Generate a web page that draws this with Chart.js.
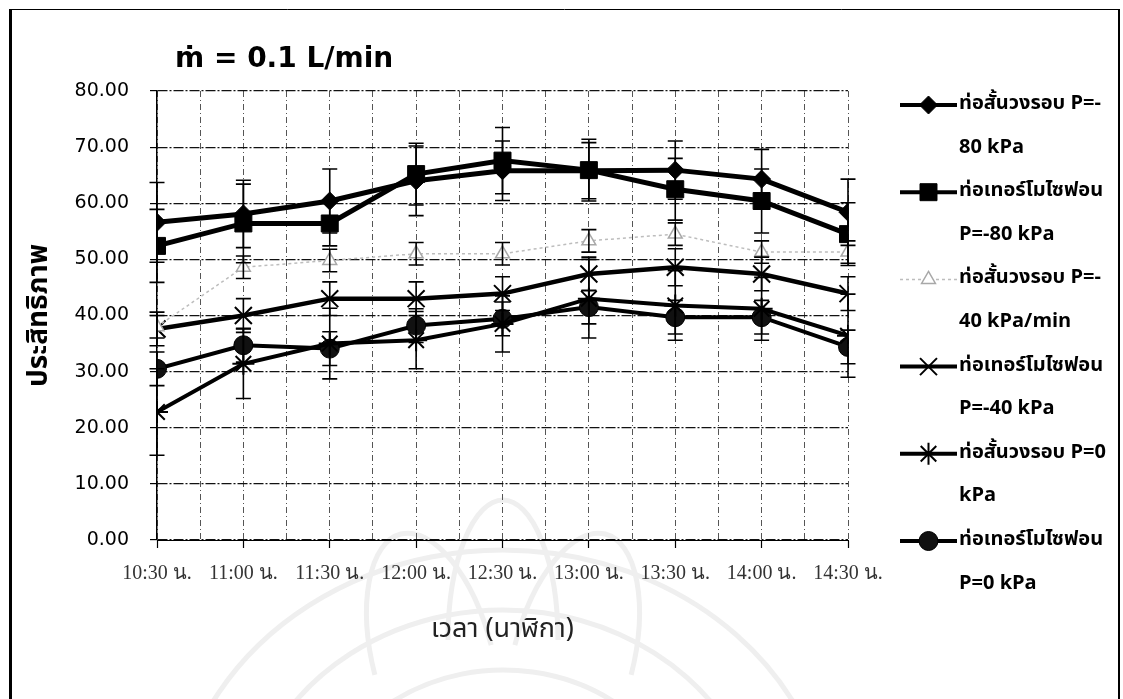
<!DOCTYPE html>
<html>
<head>
<meta charset="utf-8">
<script src="https://cdn.jsdelivr.net/npm/chart.js@4.4.1/dist/chart.umd.min.js"></script>
<style>
  html, body { margin: 0; padding: 0; background: #fff; }
  #wrap { position: relative; width: 1123px; height: 699px; }
</style>
</head>
<body>
<div id="wrap"><canvas id="c" width="1123" height="699"></canvas></div>
<script>
// Measurement times
const timeLabels = ['10:30 น.', '11:00 น.', '11:30 น.', '12:00 น.', '12:30 น.', '13:00 น.', '13:30 น.', '14:00 น.', '14:30 น.'];

// Efficiency (%) for each pipe / pressure setting
const shortLoopP80 = [56.6, 58.1, 60.4, 64.0, 65.8, 65.8, 65.9, 64.3, 58.4];
const thermoP80    = [52.4, 56.4, 56.4, 65.2, 67.6, 65.9, 62.5, 60.4, 54.5];
const shortLoopP40 = [38.0, 48.6, 49.8, 51.0, 51.0, 53.3, 54.5, 51.3, 51.3];
const thermoP40    = [37.6, 40.0, 43.0, 43.0, 43.9, 47.4, 48.6, 47.4, 43.9];
const shortLoopP0  = [22.8, 31.4, 35.0, 35.6, 38.5, 43.0, 41.8, 41.2, 36.4];
const thermoP0     = [30.5, 34.7, 34.1, 38.2, 39.4, 41.5, 39.7, 39.7, 34.4];

// Standard deviation for the error bars
const errShortLoopP80 = [7.1, 6.0, 5.7, 6.2, 5.3, 5.0, 5.2, 5.3, 5.9];
const errThermoP80    = [6.5, 7.0, 4.0, 5.5, 5.9, 5.5, 5.5, 5.7, 5.6];
const errShortLoopP40 = [2.0, 2.0, 2.0, 2.0, 2.0, 2.0, 2.0, 2.0, 2.0];
const errThermoP40    = [3.0, 3.0, 3.0, 3.0, 3.0, 3.0, 3.3, 3.0, 3.0];
const errShortLoopP0  = [7.7, 6.2, 6.3, 5.1, 5.0, 7.0, 6.2, 5.6, 7.4];
const errThermoP0     = [3.0, 3.0, 3.0, 3.0, 3.0, 3.0, 3.0, 3.0, 3.0];

const yTicks = [0, 10, 20, 30, 40, 50, 60, 70, 80];

const seriesNames = [
  ['ท่อสั้นวงรอบ P=-', '80 kPa'],
  ['ท่อเทอร์โมไซฟอน', 'P=-80 kPa'],
  ['ท่อสั้นวงรอบ P=-', '40 kPa/min'],
  ['ท่อเทอร์โมไซฟอน', 'P=-40 kPa'],
  ['ท่อสั้นวงรอบ P=0', 'kPa'],
  ['ท่อเทอร์โมไซฟอน', 'P=0 kPa']
];

const THAI_SANS = 'Tahoma, "Noto Sans Thai", "Noto Sans", "DejaVu Sans", sans-serif';

function pts(values) { return values.map((v, i) => ({ x: i, y: v })); }

const datasets = [
  { label: seriesNames[0].join(''), data: pts(shortLoopP80), err: errShortLoopP80,
    borderColor: '#000', backgroundColor: '#000', borderWidth: 5,
    pointStyle: 'rectRot', pointRadius: 9, pointBorderWidth: 1 },
  { label: seriesNames[1].join(''), data: pts(thermoP80), err: errThermoP80,
    borderColor: '#000', backgroundColor: '#000', borderWidth: 5,
    pointStyle: 'rect', pointRadius: 12, pointBorderWidth: 1 },
  { label: seriesNames[2].join(''), data: pts(shortLoopP40), err: errShortLoopP40,
    borderColor: '#bdbdbd', backgroundColor: '#ffffff', borderWidth: 1.5, borderDash: [3, 3],
    pointStyle: 'triangle', pointRadius: 8, pointBorderWidth: 1.5, pointBorderColor: '#a8a8a8' },
  { label: seriesNames[3].join(''), data: pts(thermoP40), err: errThermoP40,
    borderColor: '#000', backgroundColor: '#000', borderWidth: 4.5,
    pointStyle: 'crossRot', pointRadius: 12, pointBorderWidth: 2 },
  { label: seriesNames[4].join(''), data: pts(shortLoopP0), err: errShortLoopP0,
    borderColor: '#000', backgroundColor: '#000', borderWidth: 4,
    pointStyle: 'star', pointRadius: 11, pointBorderWidth: 2 },
  { label: seriesNames[5].join(''), data: pts(thermoP0), err: errThermoP0,
    borderColor: '#000', backgroundColor: '#111', borderWidth: 4,
    pointStyle: 'circle', pointRadius: 9.5, pointBorderWidth: 1 }
];
datasets.forEach(d => { d.tension = 0; d.fill = false; d.pointBorderColor = d.pointBorderColor || d.borderColor; });

// Error bars with caps, in data units through the chart's own scales
const errorBars = {
  id: 'errorBars',
  afterDatasetsDraw(chart) {
    const { ctx, scales: { x, y } } = chart;
    ctx.save();
    ctx.strokeStyle = '#000';
    ctx.lineWidth = 1.6;
    chart.data.datasets.forEach(ds => {
      ds.data.forEach((p, i) => {
        const e = ds.err[i];
        const px = x.getPixelForValue(p.x);
        const top = y.getPixelForValue(p.y + e);
        const bot = y.getPixelForValue(p.y - e);
        ctx.beginPath();
        ctx.moveTo(px, top); ctx.lineTo(px, bot);
        ctx.moveTo(px - 7.5, top); ctx.lineTo(px + 7.5, top);
        ctx.moveTo(px - 7.5, bot); ctx.lineTo(px + 7.5, bot);
        ctx.stroke();
      });
    });
    ctx.restore();
  }
};

// Titles, legend, frame and backdrop emblem
const decorations = {
  id: 'decorations',
  beforeDraw(chart) {
    const { ctx } = chart;
    ctx.save();
    ctx.fillStyle = '#fff';
    ctx.fillRect(0, 0, chart.width, chart.height);
    // faint emblem outline behind the lower half
    ctx.strokeStyle = '#efefef';
    ctx.lineWidth = 5;
    const cx = 503, cy = 840;
    [[330, 290], [260, 230], [190, 170]].forEach(([rx, ry]) => {
      ctx.beginPath();
      ctx.ellipse(cx, cy, rx, ry, 0, Math.PI * 1.05, Math.PI * 1.95);
      ctx.stroke();
    });
    [-1, 1].forEach(s => {
      ctx.beginPath();
      ctx.ellipse(cx + s * 70, cy - 180, 60, 130, s * 0.25, Math.PI * 1.0, Math.PI * 2.0);
      ctx.stroke();
    });
    ctx.beginPath();
    ctx.ellipse(cx, cy - 200, 55, 140, 0, Math.PI, Math.PI * 2);
    ctx.stroke();
    ctx.restore();
  },
  afterDraw(chart) {
    const { ctx, chartArea } = chart;
    ctx.save();
    // outer frame
    ctx.strokeStyle = '#000';
    ctx.lineWidth = 1;
    ctx.beginPath(); ctx.moveTo(10, 9.5); ctx.lineTo(1119, 9.5); ctx.stroke();
    ctx.lineWidth = 3;
    ctx.beginPath(); ctx.moveTo(10.5, 9); ctx.lineTo(10.5, 699); ctx.stroke();
    ctx.lineWidth = 2;
    ctx.beginPath(); ctx.moveTo(1119, 9); ctx.lineTo(1119, 699); ctx.stroke();

    // chart title
    ctx.fillStyle = '#000';
    ctx.font = 'bold 28px "DejaVu Sans", sans-serif';
    ctx.textBaseline = 'middle';
    ctx.textAlign = 'left';
    ctx.fillText('ṁ = 0.1 L/min', 175, 60);

    // y-axis title
    ctx.save();
    ctx.translate(41, (chartArea.top + chartArea.bottom) / 2);
    ctx.rotate(-Math.PI / 2);
    ctx.textAlign = 'center';
    ctx.font = 'bold 28px ' + THAI_SANS;
    ctx.fillText('ประสิทธิภาพ', 0, 0);
    ctx.restore();

    // x-axis title
    ctx.textAlign = 'center';
    ctx.font = '27px ' + THAI_SANS;
    ctx.fillStyle = '#222';
    ctx.fillText('เวลา (นาฬิกา)', (chartArea.left + chartArea.right) / 2, 632);

    // legend
    const lx0 = 900, lx1 = 957, tx = 959, top = 105, step = 43.6;
    chart.data.datasets.forEach((ds, i) => {
      const yy = top + step * 2 * i;
      ctx.save();
      ctx.strokeStyle = ds.borderColor;
      ctx.lineWidth = Math.min(ds.borderWidth, 4);
      ctx.setLineDash(ds.borderDash || []);
      ctx.beginPath(); ctx.moveTo(lx0, yy); ctx.lineTo(lx1, yy); ctx.stroke();
      ctx.setLineDash([]);
      ctx.fillStyle = ds.backgroundColor;
      ctx.strokeStyle = ds.pointBorderColor;
      ctx.lineWidth = ds.pointBorderWidth;
      Chart.helpers.drawPoint(ctx, { pointStyle: ds.pointStyle, radius: ds.pointRadius, rotation: 0, borderWidth: ds.pointBorderWidth }, (lx0 + lx1) / 2, yy);
      ctx.restore();
      ctx.fillStyle = '#000';
      ctx.textAlign = 'left';
      ctx.font = 'bold 20px ' + THAI_SANS;
      ctx.fillText(seriesNames[i][0], tx, yy);
      ctx.fillText(seriesNames[i][1], tx, yy + step);
    });
    ctx.restore();
  }
};

new Chart(document.getElementById('c'), {
  type: 'line',
  data: { datasets },
  options: {
    responsive: false,
    animation: false,
    devicePixelRatio: 1,
    layout: { padding: { left: 0, right: 275, top: 91, bottom: 0 } },
    plugins: { legend: { display: false }, tooltip: { enabled: false } },
    scales: {
      x: {
        type: 'linear', min: 0, max: timeLabels.length - 1,
        afterFit(scale) { scale.height = 699 - 540; },
        ticks: {
          stepSize: 0.5, autoSkip: false, maxRotation: 0, padding: 14,
          color: '#333', font: { family: '"Liberation Serif", "Times New Roman", serif', size: 20 },
          callback: v => Number.isInteger(v) ? timeLabels[v] : ''
        },
        grid: {
          color: '#555', lineWidth: 1, tickLength: 8,
          tickColor: c => (c.tick && Number.isInteger(c.tick.value)) ? '#000' : 'rgba(0,0,0,0)',
          tickWidth: 1.2
        },
        border: { display: true, color: '#000', width: 1, dash: [6, 3, 1, 3] }
      },
      y: {
        min: 0, max: 80,
        afterFit(scale) { scale.width = 157; },
        afterBuildTicks(scale) { scale.ticks = yTicks.map(v => ({ value: v })); },
        ticks: {
          padding: 21, color: '#000',
          font: { family: '"DejaVu Sans", sans-serif', size: 19 },
          callback: v => Number(v).toFixed(2)
        },
        grid: { color: '#111', lineWidth: 1.2, tickLength: 7, tickColor: '#000' },
        border: { display: true, color: '#000', width: 1.5, dash: [10, 2, 2, 2] }
      }
    }
  },
  plugins: [decorations, errorBars]
});
</script>
</body>
</html>
